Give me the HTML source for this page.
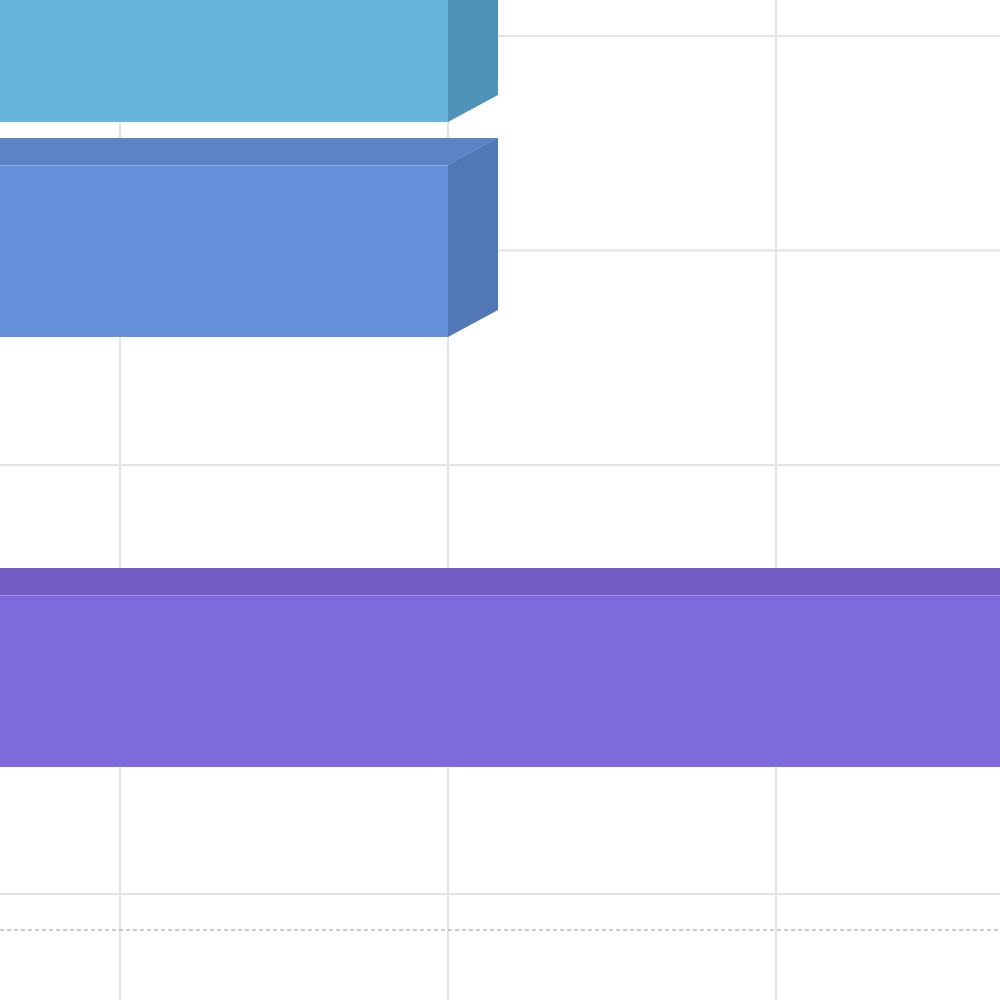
<!DOCTYPE html>
<html><head><meta charset="utf-8"><style>
html,body{margin:0;padding:0;background:#fff;width:1000px;height:1000px;overflow:hidden}
svg{display:block}
</style></head><body>
<svg id="chart" width="1000" height="1000" viewBox="0 0 1000 1000" xmlns="http://www.w3.org/2000/svg"></svg>
<script>
const categories = ["Series A", "Series B", "Series C", "Series D"];
const values = [1.0, 1.0, 0, 3.2];
const frontColors = ["#67b5dc", "#6691db", "#7f6adb", "#7f6adb"];
const topColors = ["#5ea6cc", "#5b83c6", "#725dc4", "#725dc4"];
const sideColors = ["#4f93b8", "#5177b6", "#6551b0", "#6551b0"];
const xTicks = [0, 1, 2];

const svg = document.getElementById('chart');
const NS = 'http://www.w3.org/2000/svg';
function x(v){ return 120 + v * 328; }
function bandTop(i){ return -50 + i * 215; }
const barH = 172, dx = 50, dy = -27;

function mk(tag, attrs){ const e = document.createElementNS(NS, tag); for (const k in attrs) e.setAttribute(k, attrs[k]); svg.appendChild(e); return e; }

for (let k = 0; k < 5; k++) {
  const y = 36 + k * 214.5;
  const g = mk('line', {x1:0, x2:1000, y1:y, y2:y, stroke:'#e3e3e3', 'stroke-width':2});
  
  
}
xTicks.forEach(t => {
  const g = mk('line', {x1:x(t), x2:x(t), y1:0, y2:1000, stroke:'#e3e3e3', 'stroke-width':2});
  
  
});
const d = mk('line', {x1:0, x2:1000, y1:930, y2:930, stroke:'#999', 'stroke-width':1, 'stroke-dasharray':'4,3'});



categories.forEach((c, i) => {
  const v = values[i];
  if (v <= 0) return;
  const x0 = -80, x1 = x(v), y0 = bandTop(i), y1 = y0 + barH;
  const top = mk('polygon', {points:`${x0},${y0} ${x1},${y0} ${x1+dx},${y0+dy} ${x0+dx},${y0+dy}`, fill:topColors[i]});
  
  
  const side = mk('polygon', {points:`${x1},${y0} ${x1+dx},${y0+dy} ${x1+dx},${y1+dy} ${x1},${y1}`, fill:sideColors[i]});
  
  
  const front = mk('rect', {x:x0, y:y0, width:x1-x0, height:barH, fill:frontColors[i]});
  
  
  const edge = mk('line', {x1:x0, x2:x1, y1:y0+0.5, y2:y0+0.5, stroke:'rgba(255,255,255,0.25)', 'stroke-width':1});
  
  
});
</script>
</body></html>
